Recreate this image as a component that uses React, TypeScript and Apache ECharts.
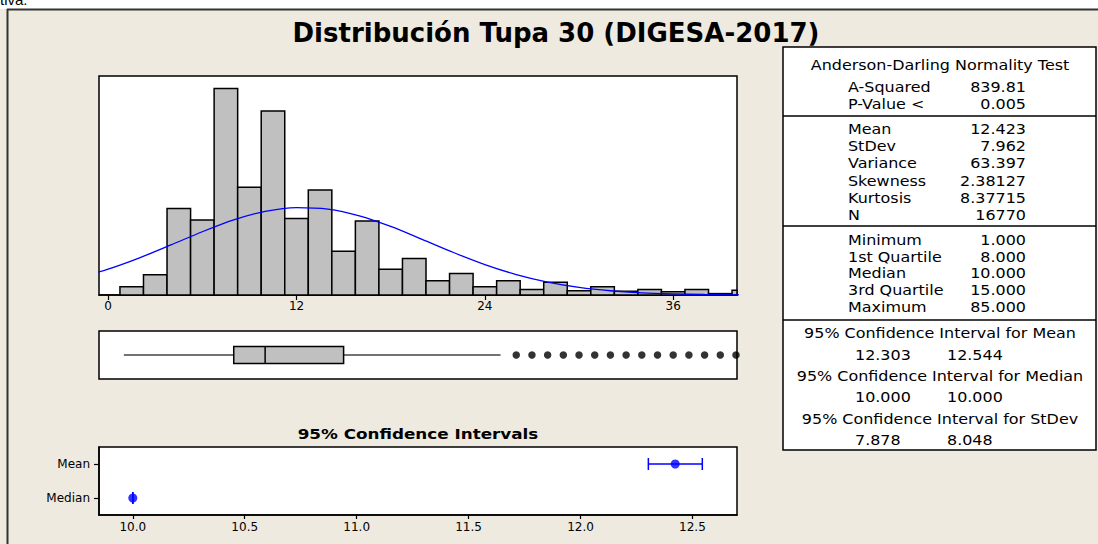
import React, { useEffect, useRef } from "react";
import * as echarts from "echarts";

// ---------- data ----------
const binCenters = [1.5, 3, 4.5, 6, 7.5, 9, 10.5, 12, 13.5, 15, 16.5, 18, 19.5, 21, 22.5, 24, 25.5, 27, 28.5, 30, 31.5, 33, 34.5, 36, 37.5, 39, 40.5];
const binCounts = [120, 290, 1245, 1080, 2970, 1550, 2645, 1100, 1510, 630, 1065, 370, 525, 205, 310, 120, 205, 80, 185, 60, 120, 55, 80, 45, 80, 20, 70];
const BIN_HALF = 0.75;

const fitX = [-2, 0, 2, 4, 6, 8, 10, 12, 14, 16, 18, 20, 22, 24, 26, 28, 30, 32, 34, 36, 38, 40, 42];
const fitY = [244, 373, 535, 720, 910, 1080, 1203, 1258, 1236, 1139, 986, 801, 611, 438, 294, 186, 110, 61, 32, 16, 7, 3, 1];

const histTicks = [0, 12, 24, 36];

const boxStats = [1, 8, 10, 15, 25]; // whisker low, Q1, median, Q3, whisker high
const outliers = [26, 27, 28, 29, 30, 31, 32, 33, 34, 35, 36, 37, 38, 39, 40];

const ciCategories = ["Median", "Mean"];
const ciPoints = [10.0, 12.423];
const ciLow = [10.0, 12.303];
const ciHigh = [10.0, 12.544];
const ciTicks = [10.0, 10.5, 11.0, 11.5, 12.0, 12.5];

const titleText = "Distribución Tupa 30 (DIGESA-2017)";
const ciTitle = "95% Confidence Intervals";
const adHeading = "Anderson-Darling Normality Test";
const adLabels = ["A-Squared", "P-Value <"];
const adValues = ["839.81", "0.005"];
const momentLabels = ["Mean", "StDev", "Variance", "Skewness", "Kurtosis", "N"];
const momentValues = ["12.423", "7.962", "63.397", "2.38127", "8.37715", "16770"];
const quantLabels = ["Minimum", "1st Quartile", "Median", "3rd Quartile", "Maximum"];
const quantValues = ["1.000", "8.000", "10.000", "15.000", "85.000"];
const ciHeadings = [
  "95% Confidence Interval for Mean",
  "95% Confidence Interval for Median",
  "95% Confidence Interval for StDev",
];
const ciTableLow = ["12.303", "10.000", "7.878"];
const ciTableHigh = ["12.544", "10.000", "8.048"];

// ---------- layout ----------
const FONT = "DejaVu Sans, Verdana, sans-serif";
const BLUE = "#0000FF";
const BG = "#EEEAE0";
const TFS = 14;
const TSCALE = 1.14;

function txt(text: string, x: number, y: number, align: string, extra: any = {}) {
  return {
    type: "text",
    x,
    y,
    scaleX: TSCALE,
    style: {
      text,
      fill: "#000",
      fontSize: TFS,
      fontFamily: FONT,
      textAlign: align,
      textVerticalAlign: "middle",
      ...extra,
    },
  };
}

export default function App() {
  const ref = useRef<HTMLDivElement>(null);

  useEffect(() => {
    if (!ref.current) return;
    const chart = echarts.init(ref.current, null, { renderer: "svg" });

    const tableLeft = 783;
    const tableRight = 1096;
    const labelX = 848;
    const valueX = 1026;
    const centerX = 940;
    const adRowsY = [87, 104];
    const momentRowsY = [129, 146, 163, 181, 198, 215];
    const quantRowsY = [240, 257, 273, 290, 307];
    const ciHeadY = [333, 376, 419];
    const ciValY = [355, 397, 440];

    const tableEls: any[] = [
      {
        type: "rect",
        shape: { x: tableLeft, y: 47, width: tableRight - tableLeft, height: 403 },
        style: { fill: "#fff", stroke: "#000", lineWidth: 1.5 },
      },
      ...[116, 226, 320].map((y) => ({
        type: "line",
        shape: { x1: tableLeft, y1: y, x2: tableRight, y2: y },
        style: { stroke: "#000", lineWidth: 1.5 },
      })),
      txt(adHeading, centerX, 65, "center"),
      ...adLabels.map((l, i) => txt(l, labelX, adRowsY[i], "left")),
      ...adValues.map((v, i) => txt(v, valueX, adRowsY[i], "right")),
      ...momentLabels.map((l, i) => txt(l, labelX, momentRowsY[i], "left")),
      ...momentValues.map((v, i) => txt(v, valueX, momentRowsY[i], "right")),
      ...quantLabels.map((l, i) => txt(l, labelX, quantRowsY[i], "left")),
      ...quantValues.map((v, i) => txt(v, valueX, quantRowsY[i], "right")),
      ...ciHeadings.map((h, i) => txt(h, centerX, ciHeadY[i], "center")),
      ...ciTableLow.map((v, i) => txt(v, 855, ciValY[i], "left")),
      ...ciTableHigh.map((v, i) => txt(v, 947, ciValY[i], "left")),
    ];

    const option: any = {
      animation: false,
      backgroundColor: BG,
      graphic: [
        { type: "rect", shape: { x: 0, y: 0, width: 1098, height: 9 }, style: { fill: "#fff" } },
        {
          type: "text",
          x: 0,
          y: 7,
          style: { text: "tiva.", fill: "#000", fontSize: 15, fontFamily: "Liberation Sans, sans-serif", textVerticalAlign: "bottom" },
        },
        { type: "line", shape: { x1: 7, y1: 9.5, x2: 1098, y2: 9.5 }, style: { stroke: "#333", lineWidth: 2 } },
        { type: "line", shape: { x1: 7.5, y1: 9, x2: 7.5, y2: 544 }, style: { stroke: "#333", lineWidth: 2 } },
        {
          type: "text",
          x: 556,
          y: 33,
          style: {
            text: titleText,
            fill: "#000",
            fontSize: 26,
            fontWeight: "bold",
            fontFamily: FONT,
            textAlign: "center",
            textVerticalAlign: "middle",
          },
        },
        {
          type: "text",
          x: 418,
          y: 434,
          scaleX: 1.2,
          style: {
            text: ciTitle,
            fill: "#000",
            fontSize: 14,
            fontWeight: "bold",
            fontFamily: FONT,
            textAlign: "center",
            textVerticalAlign: "middle",
          },
        },
        ...tableEls,
      ],
      grid: [
        { left: 99, top: 76, width: 638, height: 219, show: true, backgroundColor: "#fff", borderColor: "#000", borderWidth: 1.5 },
        { left: 99, top: 331, width: 638, height: 48, show: true, backgroundColor: "#fff", borderColor: "#000", borderWidth: 1.5 },
        { left: 99, top: 447, width: 638, height: 68, show: true, backgroundColor: "#fff", borderColor: "#000", borderWidth: 1.5 },
      ],
      xAxis: [
        {
          type: "value",
          gridIndex: 0,
          min: -0.585,
          max: 40.065,
          splitLine: { show: false },
          axisLine: { show: true, lineStyle: { color: "#000", width: 1.5 } },
          axisTick: { show: true, customValues: histTicks, length: 5, lineStyle: { color: "#000", width: 1.2 } },
          axisLabel: { customValues: histTicks, color: "#000", fontSize: 12, fontFamily: FONT, margin: 5 },
        },
        { type: "value", gridIndex: 1, min: -0.585, max: 40.065, show: false },
        {
          type: "value",
          gridIndex: 2,
          min: 9.849,
          max: 12.699,
          splitLine: { show: false },
          axisLine: { show: true, lineStyle: { color: "#000", width: 1.5 } },
          axisTick: { show: true, customValues: ciTicks, length: 4, lineStyle: { color: "#000", width: 1.2 } },
          axisLabel: {
            customValues: ciTicks,
            color: "#000",
            fontSize: 12,
            fontFamily: FONT,
            margin: 6,
            formatter: (v: number) => v.toFixed(1),
          },
        },
      ],
      yAxis: [
        { type: "value", gridIndex: 0, min: 0, max: 3150, show: false },
        { type: "value", gridIndex: 1, min: -1, max: 1, show: false },
        {
          type: "category",
          gridIndex: 2,
          data: ciCategories,
          axisLine: { show: true, lineStyle: { color: "#000", width: 1.5 } },
          axisTick: { show: true, alignWithLabel: true, length: 5, lineStyle: { color: "#000", width: 1.2 } },
          axisLabel: { color: "#000", fontSize: 12, fontFamily: FONT, margin: 9 },
          splitLine: { show: false },
        },
      ],
      series: [
        {
          type: "custom",
          xAxisIndex: 0,
          yAxisIndex: 0,
          data: binCenters.map((c, i) => [c, binCounts[i]]),
          encode: { x: 0, y: 1 },
          z: 2,
          renderItem: (params: any, api: any) => {
            const c = api.value(0);
            const v = api.value(1);
            const p0 = api.coord([c - BIN_HALF, v]);
            const p1 = api.coord([c + BIN_HALF, 0]);
            const cs = params.coordSys;
            const rect = echarts.graphic.clipRectByRect(
              { x: p0[0], y: p0[1], width: p1[0] - p0[0], height: p1[1] - p0[1] },
              { x: cs.x, y: cs.y, width: cs.width, height: cs.height }
            );
            if (!rect) return null;
            return {
              type: "rect",
              shape: rect,
              style: { fill: "#C0C0C0", stroke: "#000", lineWidth: 1.5 },
            };
          },
        },
        {
          type: "line",
          xAxisIndex: 0,
          yAxisIndex: 0,
          data: fitX.map((x, i) => [x, fitY[i]]),
          showSymbol: false,
          smooth: 0.3,
          z: 4,
          lineStyle: { color: BLUE, width: 1.3 },
        },
        {
          type: "custom",
          xAxisIndex: 1,
          yAxisIndex: 1,
          data: [[...boxStats, 0]],
          encode: { x: [0, 1, 2, 3, 4], y: 5 },
          renderItem: (params: any, api: any) => {
            const xs = [0, 1, 2, 3, 4].map((d) => api.coord([api.value(d), 0])[0]);
            const y = api.coord([0, 0])[1];
            const h = 17;
            return {
              type: "group",
              children: [
                { type: "line", shape: { x1: xs[0], y1: y, x2: xs[1], y2: y }, style: { stroke: "#444", lineWidth: 1.5 } },
                { type: "line", shape: { x1: xs[3], y1: y, x2: xs[4], y2: y }, style: { stroke: "#444", lineWidth: 1.5 } },
                {
                  type: "rect",
                  shape: { x: xs[1], y: y - h / 2, width: xs[3] - xs[1], height: h },
                  style: { fill: "#C0C0C0", stroke: "#000", lineWidth: 1.5 },
                },
                { type: "line", shape: { x1: xs[2], y1: y - h / 2, x2: xs[2], y2: y + h / 2 }, style: { stroke: "#000", lineWidth: 1.5 } },
              ],
            };
          },
        },
        {
          type: "scatter",
          xAxisIndex: 1,
          yAxisIndex: 1,
          data: outliers.map((v) => [v, 0]),
          symbol: "circle",
          symbolSize: 7.5,
          itemStyle: { color: "#000" },
        },
        {
          type: "custom",
          xAxisIndex: 2,
          yAxisIndex: 2,
          data: ciLow.map((lo, i) => [lo, ciHigh[i], i]),
          encode: { x: [0, 1], y: 2 },
          renderItem: (params: any, api: any) => {
            const cat = api.value(2);
            const a = api.coord([api.value(0), cat]);
            const b = api.coord([api.value(1), cat]);
            const cap = 6;
            const st = { stroke: BLUE, lineWidth: 1.5 };
            return {
              type: "group",
              children: [
                { type: "line", shape: { x1: a[0], y1: a[1], x2: b[0], y2: b[1] }, style: st },
                { type: "line", shape: { x1: a[0], y1: a[1] - cap, x2: a[0], y2: a[1] + cap }, style: st },
                { type: "line", shape: { x1: b[0], y1: b[1] - cap, x2: b[0], y2: b[1] + cap }, style: st },
              ],
            };
          },
        },
        {
          type: "scatter",
          xAxisIndex: 2,
          yAxisIndex: 2,
          data: ciPoints.map((v, i) => [v, ciCategories[i]]),
          symbol: "circle",
          symbolSize: 9,
          z: 5,
          itemStyle: { color: BLUE },
        },
      ],
    };

    chart.setOption(option);
    return () => chart.dispose();
  }, []);

  return (
    <div
      ref={ref}
      style={{ position: "absolute", left: 0, top: 0, width: 1098, height: 544 }}
    />
  );
}
